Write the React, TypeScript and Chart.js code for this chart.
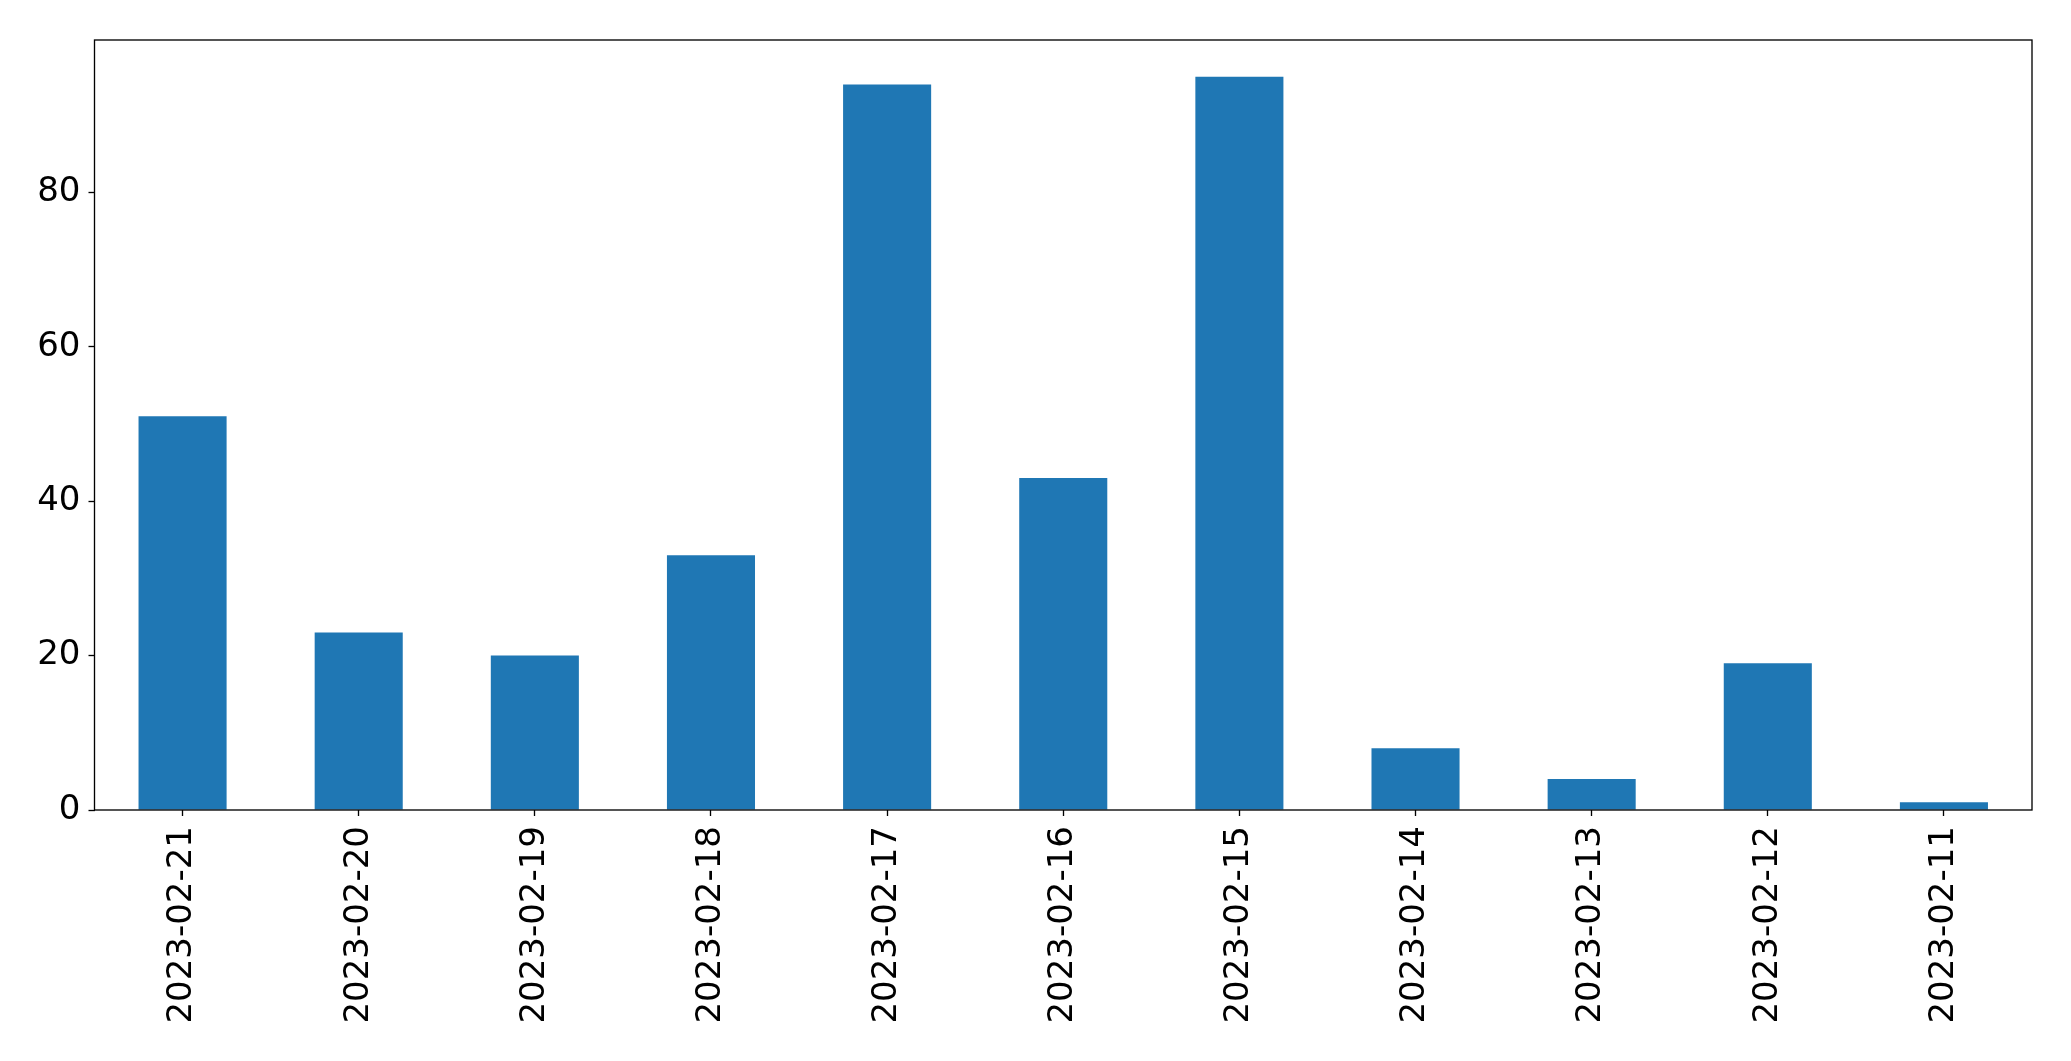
import React, { useEffect, useRef } from "react";
import { Chart, registerables } from "chart.js";

Chart.register(...registerables);

const categories = [
  "2023-02-21",
  "2023-02-20",
  "2023-02-19",
  "2023-02-18",
  "2023-02-17",
  "2023-02-16",
  "2023-02-15",
  "2023-02-14",
  "2023-02-13",
  "2023-02-12",
  "2023-02-11",
];
const values = [51, 23, 20, 33, 94, 43, 95, 8, 4, 19, 1];
const yTicks = [0, 20, 40, 60, 80];
const yMax = 99.75;

const W = 2071;
const H = 1061;
const FONT = "'DejaVu Sans', sans-serif";

const frame = {
  id: "frame",
  afterDraw(chart: any) {
    const { ctx, chartArea } = chart;
    ctx.save();
    ctx.strokeStyle = "#000";
    ctx.lineWidth = 1.33;
    ctx.strokeRect(
      chartArea.left,
      chartArea.top,
      chartArea.right - chartArea.left,
      chartArea.bottom - chartArea.top
    );
    ctx.restore();
  },
};

export default function App() {
  const ref = useRef<HTMLCanvasElement | null>(null);
  useEffect(() => {
    if (!ref.current) return;
    const chart = new Chart(ref.current, {
      type: "bar",
      data: {
        labels: categories,
        datasets: [
          {
            data: values,
            backgroundColor: "#1f77b4",
            borderWidth: 0,
            barPercentage: 0.5,
            categoryPercentage: 1.0,
          },
        ],
      },
      options: {
        animation: false,
        responsive: false,
        devicePixelRatio: 1,
        layout: { padding: { top: 40, right: 39, left: 0, bottom: 0 } },
        plugins: {
          legend: { display: false },
          tooltip: { enabled: false },
        },
        scales: {
          x: {
            grid: {
              display: true,
              offset: false,
              drawOnChartArea: false,
              drawTicks: true,
              tickLength: 6,
              tickWidth: 1.33,
              color: "#000",
            },
            border: { display: false },
            ticks: {
              minRotation: 90,
              maxRotation: 90,
              autoSkip: false,
              padding: 10,
              color: "#000",
              font: { family: FONT, size: 34 },
            },
            afterFit(scale: any) {
              scale.height = 251;
            },
          },
          y: {
            min: 0,
            max: yMax,
            afterBuildTicks(scale: any) {
              scale.ticks = yTicks.map((v) => ({ value: v }));
            },
            grid: {
              display: true,
              drawOnChartArea: false,
              drawTicks: true,
              tickLength: 6,
              tickWidth: 1.33,
              color: "#000",
            },
            border: { display: false },
            ticks: {
              padding: 8,
              color: "#000",
              font: { family: FONT, size: 34 },
            },
            afterFit(scale: any) {
              scale.width = 94.5;
            },
          },
        },
      },
      plugins: [frame],
    });
    return () => chart.destroy();
  }, []);
  return (
    <div style={{ position: "fixed", left: 0, top: 0, width: W, height: H, background: "#fff" }}>
      <canvas ref={ref} width={W} height={H} style={{ width: W, height: H, display: "block" }} />
    </div>
  );
}
